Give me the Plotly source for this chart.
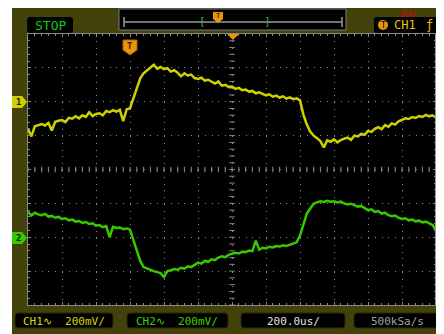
import numpy as np
import plotly.graph_objects as go

# time axis of the capture, us (200 us/div, trigger in the middle)
t_us = list(range(-1200, 1201, 20))

# CH1, mV (200 mV/div)
ch1_mv = [
    -160, -205, -145, -138, -132, -140, -125, -170, -118, -112,
    -108, -120, -95, -100, -85, -98, -80, -90, -62, -85,
    -72, -68, -80, -55, -62, -50, -58, -48, -115, -45,
    -38, 20, 85, 138, 168, 185, 198, 218, 195, 205,
    192, 198, 178, 186, 172, 150, 168, 155, 160, 140,
    135, 142, 125, 130, 118, 108, 120, 95, 100, 88,
    90, 76, 82, 68, 72, 60, 64, 50, 56, 45,
    38, 44, 30, 36, 25, 32, 18, 26, 15, 20,
    8, -76, -135, -176, -200, -215, -232, -270, -228, -236,
    -222, -240, -226, -218, -212, -225, -200, -205, -190, -195,
    -172, -178, -160, -150, -162, -138, -148, -128, -135, -115,
    -108, -98, -102, -90, -96, -84, -90, -78, -86, -80,
    -95,
]

# CH2, mV (200 mV/div)
ch2_mv = [
    150, 128, 145, 135, 130, 138, 122, 126, 115, 120,
    108, 112, 100, 104, 92, 96, 85, 90, 78, 82,
    68, 72, 60, 66, 0, 62, 55, 58, 48, 52,
    45, -20, -90, -140, -176, -185, -190, -200, -206, -212,
    -235, -200, -195, -188, -192, -180, -185, -172, -176, -162,
    -150, -156, -140, -145, -130, -135, -120, -112, -118, -104,
    -100, -92, -96, -85, -88, -78, -82, -20, -74, -62,
    -66, -56, -60, -52, -55, -48, -51, -45, -40, -30,
    10, 80, 140, 170, 198, 206, 212, 208, 215, 210,
    212, 205, 210, 200, 194, 198, 188, 180, 185, 170,
    160, 165, 150, 155, 140, 145, 130, 124, 128, 115,
    108, 112, 100, 104, 94, 98, 88, 92, 80, 72,
    40,
]

volts_per_div = 200
ch1_offset = 2    # divisions above centre
ch2_offset = -2

OLIVE = "#42420a"
GRID = "#8a8a8a"
YEL = "#d0d000"
GRN = "#38c800"
ORANGE = "#e8960c"

# page has an 8px body margin, so the figure sits at (8, 8) in the window
OFF = 8
W, H = 436, 326
L, R, T, B = 20, 8, 26, 29
PW, PH = W - L - R, H - T - B


# helpers take window pixel coords
def px(x):
    return (x - OFF - L) / PW


def py(y):
    return (H - B - (y - OFF)) / PH


def poly(pts):
    return "M " + " L ".join(f"{px(x):.5f},{py(y):.5f}" for x, y in pts) + " Z"


def rrect(x0, y0, x1, y1, r=3):
    p = [
        f"M {px(x0 + r):.5f},{py(y0):.5f}",
        f"L {px(x1 - r):.5f},{py(y0):.5f}",
        f"Q {px(x1):.5f},{py(y0):.5f} {px(x1):.5f},{py(y0 + r):.5f}",
        f"L {px(x1):.5f},{py(y1 - r):.5f}",
        f"Q {px(x1):.5f},{py(y1):.5f} {px(x1 - r):.5f},{py(y1):.5f}",
        f"L {px(x0 + r):.5f},{py(y1):.5f}",
        f"Q {px(x0):.5f},{py(y1):.5f} {px(x0):.5f},{py(y1 - r):.5f}",
        f"L {px(x0):.5f},{py(y0 + r):.5f}",
        f"Q {px(x0):.5f},{py(y0):.5f} {px(x0 + r):.5f},{py(y0):.5f} Z",
    ]
    return " ".join(p)


fig = go.Figure()

# centre-line tick marks
fig.add_trace(go.Scatter(
    x=np.arange(-1200, 1201, 40), y=[0] * 61, mode="markers", hoverinfo="skip",
    marker=dict(symbol="line-ns", size=4, line=dict(width=1, color=GRID))))
fig.add_trace(go.Scatter(
    x=[0] * 41, y=np.arange(-4, 4.01, 0.2), mode="markers", hoverinfo="skip",
    marker=dict(symbol="line-ew", size=4, line=dict(width=1, color=GRID))))

fig.add_trace(go.Scatter(
    x=t_us, y=[v / volts_per_div + ch1_offset for v in ch1_mv],
    mode="lines", line=dict(color=YEL, width=2.5), name="CH1"))
fig.add_trace(go.Scatter(
    x=t_us, y=[v / volts_per_div + ch2_offset for v in ch2_mv],
    mode="lines", line=dict(color=GRN, width=2.5), name="CH2"))

shapes = [
    dict(type="rect", xref="paper", yref="paper", x0=px(12), x1=px(W + OFF), y0=py(8), y1=py(H + OFF),
         fillcolor=OLIVE, line=dict(width=0), layer="below"),
    dict(type="rect", xref="paper", yref="paper", x0=0, x1=1, y0=0, y1=1,
         fillcolor="black", line=dict(width=0), layer="below"),
    # right edge bar of the graticule
    dict(type="rect", xref="paper", yref="paper", x0=px(435), x1=px(438), y0=py(305), y1=py(34),
         fillcolor="#9a9a9a", line=dict(width=0)),
    # STOP box
    dict(type="path", xref="paper", yref="paper", path=rrect(27, 17, 73, 33),
         fillcolor="black", line=dict(width=0)),
    # memory bar
    dict(type="rect", xref="paper", yref="paper", x0=px(119), x1=px(346), y0=py(30), y1=py(9),
         fillcolor="black", line=dict(color="#7a7a7a", width=1)),
    dict(type="line", xref="paper", yref="paper", x0=px(124), x1=px(342), y0=py(22), y1=py(22),
         line=dict(color="#9a9a9a", width=1.5)),
    dict(type="line", xref="paper", yref="paper", x0=px(124), x1=px(124), y0=py(17), y1=py(27),
         line=dict(color="#9a9a9a", width=1.5)),
    dict(type="line", xref="paper", yref="paper", x0=px(342), x1=px(342), y0=py(17), y1=py(27),
         line=dict(color="#9a9a9a", width=1.5)),
    # trigger box
    dict(type="path", xref="paper", yref="paper", path=rrect(374, 17, 439, 33),
         fillcolor="black", line=dict(width=0)),
    dict(type="circle", xref="paper", yref="paper", x0=px(378), x1=px(388), y0=py(30), y1=py(20),
         fillcolor=ORANGE, line=dict(width=0)),
    # channel tags
    dict(type="path", xref="paper", yref="paper",
         path=poly([(12, 96), (22, 96), (27, 102), (22, 108), (12, 108)]),
         fillcolor=YEL, line=dict(width=0)),
    dict(type="path", xref="paper", yref="paper",
         path=poly([(12, 232), (22, 232), (27, 238), (22, 244), (12, 244)]),
         fillcolor=GRN, line=dict(width=0)),
    # trigger markers
    dict(type="path", xref="paper", yref="paper",
         path=poly([(123, 40), (137, 40), (137, 50), (130, 55), (123, 50)]),
         fillcolor=ORANGE, line=dict(color="#a86000", width=1)),
    dict(type="path", xref="paper", yref="paper",
         path=poly([(213, 12), (223, 12), (223, 19), (218, 23), (213, 19)]),
         fillcolor=ORANGE, line=dict(width=0)),
    dict(type="path", xref="paper", yref="paper",
         path=poly([(227, 34), (239, 34), (233, 40)]),
         fillcolor=ORANGE, line=dict(width=0)),
]

# bottom status boxes
boxes = [(15, 113), (127, 228), (241, 345), (354, 440)]
for x0, x1 in boxes:
    shapes.append(dict(type="path", xref="paper", yref="paper", path=rrect(x0, 313, x1, 328),
                       fillcolor="black", line=dict(color="#2a2a10", width=1)))

MONO = "DejaVu Sans Mono"


def label(x, y, text, color, size=12, family=MONO):
    return dict(xref="paper", yref="paper", x=px(x), y=py(y), text=text, showarrow=False,
                xanchor="center", yanchor="middle", font=dict(family=family, size=size, color=color))


annotations = [
    label(50, 25, "STOP", "#10c810", 13),
    label(409, 13.5, "Rmt", "#d00000", 9),
    label(383, 25, "T", "black", 8),
    label(405, 25, "CH1", "#f0c000", 12),
    label(429, 25, "ƒ", "#f0c000", 12),
    label(202, 22, "[", "#40a850", 11),
    label(267, 22, "]", "#40a850", 11),
    label(218, 16, "T", "black", 7),
    label(130, 46, "<b>T</b>", "#402000", 9),
    label(18, 102, "<b>1</b>", "#202000", 9),
    label(18, 238, "<b>2</b>", "#002000", 9),
    label(64, 321, "CH1∿  200mV/", "#d8d800", 11),
    label(177, 321, "CH2∿  200mV/", "#40d000", 11),
    label(293, 321, "200.0us/", "#e0e0e0", 11),
    label(397, 321, "500kSa/s", "#a0a0a0", 11),
]

axis_common = dict(showticklabels=False, zeroline=False, showline=True, mirror="allticks",
                   linecolor=GRID, linewidth=1, ticks="inside", ticklen=3, tickcolor=GRID,
                   gridcolor=GRID, griddash="1px,5.8px", gridwidth=1, fixedrange=True,
                   minor=dict(ticks="inside", ticklen=2, tickcolor=GRID, showgrid=False))

fig.update_layout(
    width=W, height=H,
    margin=dict(l=L, r=R, t=T, b=B, pad=0),
    paper_bgcolor="white", plot_bgcolor="black",
    showlegend=False,
    shapes=shapes, annotations=annotations,
    xaxis=dict(range=[-1200, 1200], dtick=200, tick0=0, minor_dtick=40, **axis_common),
    yaxis=dict(range=[-4, 4], dtick=1, tick0=0, minor_dtick=0.2, **axis_common),
)

fig.write_html("out.html", config={"displayModeBar": False})
